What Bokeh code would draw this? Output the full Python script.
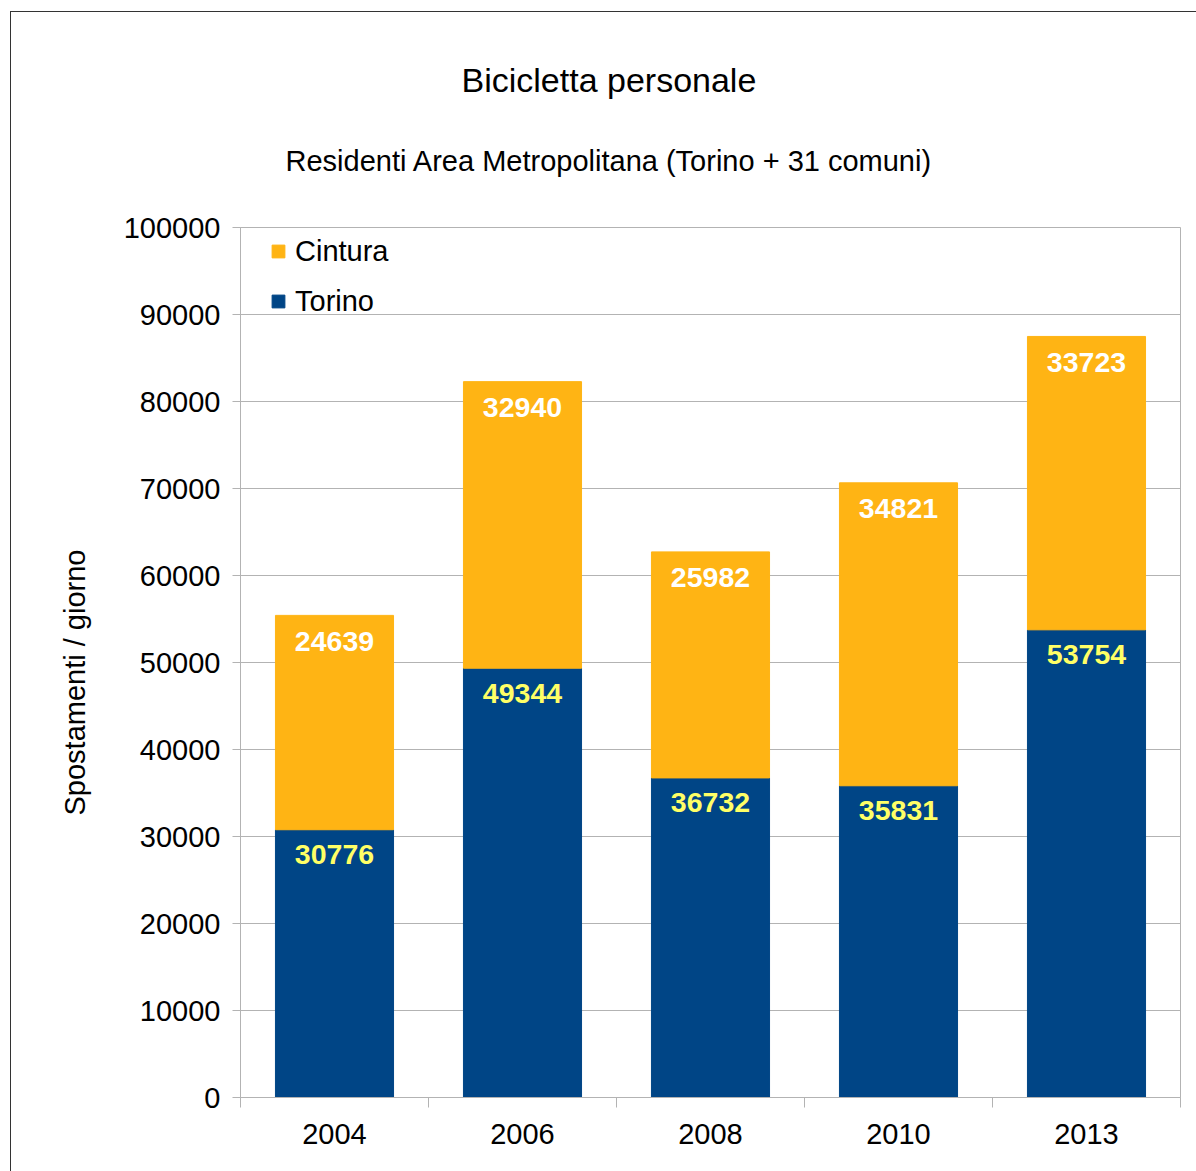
from bokeh.plotting import figure
from bokeh.models import (ColumnDataSource, FixedTicker, Legend, LegendItem,
                          Title, BasicTickFormatter)
from bokeh.core.properties import value
from bokeh.embed import file_html
from bokeh.resources import INLINE

years = ["2004", "2006", "2008", "2010", "2013"]
torino = [30776, 49344, 36732, 35831, 53754]
cintura = [24639, 32940, 25982, 34821, 33723]
y_ticks = [0, 10000, 20000, 30000, 40000, 50000, 60000, 70000, 80000, 90000, 100000]

FONT = "Liberation Sans"
C_TORINO = "#004586"
C_CINTURA = "#ffb414"
GRID = "#b3b3b3"
FS = "29px"

xs = [i + 0.5 for i in range(len(years))]
tot = [a + b for a, b in zip(torino, cintura)]
src = ColumnDataSource(dict(x=xs, torino=torino, cintura=cintura, tot=tot,
                            tl=[str(v) for v in torino],
                            cl=[str(v) for v in cintura]))

W, H = 1186, 1160
p = figure(width=W, height=H, x_range=(0, len(years)), y_range=(0, 100000),
           output_backend="svg", toolbar_location=None,
           min_border_left=229, min_border_right=17,
           min_border_top=215, min_border_bottom=75)
p.styles = {"border-left": "1px solid #333333", "border-top": "1px solid #333333",
            "margin-left": "10px", "margin-top": "11px"}
p.outline_line_color = GRID
p.xgrid.visible = False
p.ygrid.grid_line_color = GRID
p.ygrid.ticker = FixedTicker(ticks=y_ticks)

r_t = p.vbar(x="x", bottom=0, top="torino", width=0.628, color=C_TORINO, source=src)
r_c = p.vbar(x="x", bottom="torino", top="tot", width=0.628, color=C_CINTURA, source=src)

p.text(x="x", y="torino", text="tl", source=src, text_align="center",
       text_baseline="middle", y_offset=25, text_color="#ffff66",
       text_font=value(FONT), text_font_size="28.5px", text_font_style="bold")
p.text(x="x", y="tot", text="cl", source=src, text_align="center",
       text_baseline="middle", y_offset=26, text_color="#ffffff",
       text_font=value(FONT), text_font_size="28.5px", text_font_style="bold")

# axes
xa = p.xaxis[0]
xa.ticker = FixedTicker(ticks=xs, minor_ticks=list(range(len(years) + 1)))
xa.major_label_overrides = {x: y for x, y in zip(xs, years)}
xa.major_tick_line_color = None
xa.minor_tick_line_color = GRID
xa.minor_tick_out = 10
xa.minor_tick_in = 0
xa.axis_line_color = GRID
xa.major_label_text_font = FONT
xa.major_label_text_font_size = FS
xa.major_label_text_color = "#000000"
xa.major_label_standoff = 16

ya = p.yaxis[0]
ya.ticker = FixedTicker(ticks=y_ticks)
ya.formatter = BasicTickFormatter(use_scientific=False)
ya.axis_line_color = GRID
ya.major_tick_line_color = GRID
ya.major_tick_out = 8
ya.major_tick_in = 0
ya.minor_tick_line_color = None
ya.major_label_text_font = FONT
ya.major_label_text_font_size = FS
ya.major_label_text_color = "#000000"
ya.major_label_standoff = 12

# y-axis title, placed as a rotated side title so it can sit below centre
p.add_layout(Title(text="Spostamenti / giorno", align="left", offset=282,
                   standoff=60, text_font=FONT, text_font_size=FS,
                   text_font_style="normal", text_color="#000000"), "left")

legend = Legend(items=[LegendItem(label="Cintura", renderers=[r_c]),
                       LegendItem(label="Torino", renderers=[r_t])],
                location=(30, 776), padding=0, margin=0, spacing=10,
                glyph_width=16, glyph_height=16, label_height=40,
                label_standoff=9, border_line_color=None,
                background_fill_alpha=0,
                label_text_font=FONT, label_text_font_size=FS,
                label_text_color="#000000")
p.add_layout(legend, "center")

# sub-title (nearest the frame) then main title
p.add_layout(Title(text="Residenti Area Metropolitana (Torino + 31 comuni)",
                   align="left", offset=45, standoff=101,
                   text_font=FONT, text_font_size=FS, text_font_style="normal",
                   text_color="#000000"), "above")
p.add_layout(Title(text="Bicicletta personale", align="left", offset=221,
                   standoff=-12, text_font=FONT, text_font_size="34px",
                   text_font_style="normal", text_color="#000000"), "above")

open("out.html", "w").write(file_html(p, INLINE))
